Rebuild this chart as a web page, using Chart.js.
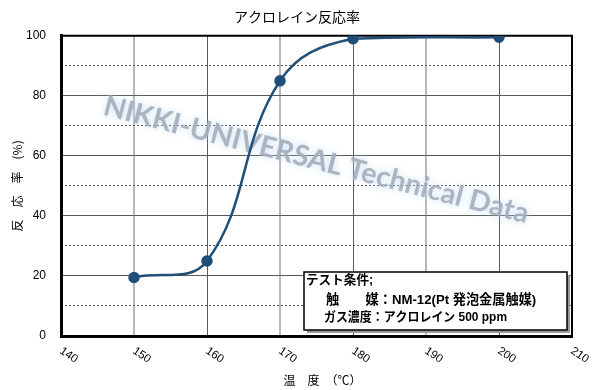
<!DOCTYPE html>
<html>
<head>
<meta charset="utf-8">
<script src="https://cdn.jsdelivr.net/npm/chart.js@4/dist/chart.umd.min.js"></script>
<style>
  html, body { margin: 0; padding: 0; background: #fff; }
  #wrap { width: 600px; height: 390px; }
</style>
</head>
<body>
<div id="wrap"><canvas id="myGraph" width="600" height="390"></canvas></div>
<script>
// data
var temps = [150, 160, 170, 180, 200];
var rates = [19.5, 25, 85, 99, 99.5];
var xTicks = [140, 150, 160, 170, 180, 190, 200, 210];
var yTicks = [0, 20, 40, 60, 80, 100];

var titleText = 'アクロレイン反応率';
var xTitle = '　温　度　（℃）';
var yTitle = '反　応　率　(%)';
var noteLines = ['テスト条件;', '触　　媒：NM-12(Pt 発泡金属触媒)', 'ガス濃度：アクロレイン 500 ppm'];
var watermark = 'NIKKI-UNIVERSAL Technical Data';

var points = [];
for (var i = 0; i < temps.length; i++) {
    points.push({ x: temps[i], y: rates[i] });
}

var lineColor = '#1f4e79';
var latin = '"Liberation Sans", Arial, "Noto Sans CJK JP", sans-serif';
var cjk = '"Noto Sans CJK JP", sans-serif';

// frame, watermark, rotated x labels and the note box
var extras = {
    id: 'extras',
    beforeDatasetsDraw: function (chart) {
        var c = chart.ctx, a = chart.chartArea;
        c.save();
        c.strokeStyle = '#000';
        c.lineWidth = 2;
        c.beginPath();
        c.moveTo(a.left, a.top);
        c.lineTo(a.right, a.top);
        c.lineTo(a.right, a.bottom);
        c.stroke();

        // watermark
        c.translate(314, 169);
        c.rotate(14.4 * Math.PI / 180);
        c.font = 'bold 30px Lato, "Open Sans", sans-serif';
        var w = c.measureText(watermark).width;
        var size = 30 * 438 / w;
        c.font = 'bold ' + size.toFixed(1) + 'px Lato, "Open Sans", sans-serif';
        c.textAlign = 'center';
        c.textBaseline = 'alphabetic';
        c.shadowColor = 'rgba(185,215,242,0.95)';
        c.shadowBlur = 7;
        c.fillStyle = 'rgba(163,172,186,0.88)';
        c.fillText(watermark, 0, 0);
        c.restore();
    },
    afterDraw: function (chart) {
        var c = chart.ctx, a = chart.chartArea;
        var xs = chart.scales.x;
        c.save();
        // x tick labels, slanted down to the right
        c.fillStyle = '#000';
        c.font = '11.5px ' + latin;
        c.textAlign = 'left';
        c.textBaseline = 'top';
        xs.ticks.forEach(function (t) {
            var px = xs.getPixelForValue(t.value);
            c.save();
            c.translate(px + 3, 345);
            c.rotate(34 * Math.PI / 180);
            c.fillText(String(t.value), 0, 0);
            c.restore();
        });

        // note box
        var bx = a.right - 268, by = a.bottom - 64, bw = 263, bh = 58;
        c.fillStyle = '#9a9a9a';
        c.fillRect(bx + 3, by + 3, bw, bh);
        c.fillStyle = '#fff';
        c.fillRect(bx, by, bw, bh);
        c.strokeStyle = '#000';
        c.lineWidth = 1.5;
        c.strokeRect(bx, by, bw, bh);
        c.fillStyle = '#000';
        c.textBaseline = 'middle';
        c.font = 'bold 12.6px ' + latin;
        c.fillText(noteLines[0], bx + 2, by + 9);
        c.font = 'bold 13.2px ' + latin;
        c.fillText(noteLines[1], bx + 22, by + 28, 211);
        c.font = 'bold 12.6px ' + latin;
        c.fillText(noteLines[2], bx + 20, by + 46, 183);
        c.restore();
    }
};

var ctx = document.getElementById('myGraph');
var myChart = new Chart(ctx, {
    type: 'line',
    data: {
        datasets: [{
            label: 'rate',
            data: points,
            borderColor: lineColor,
            backgroundColor: lineColor,
            borderWidth: 2.5,
            tension: 0.4,
            pointRadius: 4.5,
            pointBackgroundColor: lineColor,
            pointBorderColor: lineColor,
            fill: false
        }]
    },
    plugins: [extras],
    options: {
        responsive: false,
        animation: false,
        layout: { padding: { left: 0, right: 6, top: 0, bottom: 0 } },
        plugins: {
            legend: { display: false },
            tooltip: { enabled: false },
            title: {
                display: true,
                text: titleText,
                color: '#000',
                font: { family: cjk, size: 14, weight: 'normal' },
                padding: { top: 8, bottom: 11 }
            }
        },
        scales: {
            x: {
                type: 'linear',
                min: 140,
                max: 210,
                afterBuildTicks: function (s) {
                    s.ticks = xTicks.map(function (v) { return { value: v }; });
                },
                afterFit: function (s) { s.height = 54; },
                ticks: { display: false },
                grid: {
                    drawTicks: false,
                    color: function (c) {
                        var v = c.tick && c.tick.value;
                        if (v === 140 || v === 210) return 'rgba(0,0,0,0)';
                        return (v - 150) % 20 === 0 ? '#b8b8b8' : '#5a5a5a';
                    },
                    lineWidth: function (c) {
                        var v = c.tick && c.tick.value;
                        return (v - 150) % 20 === 0 ? 2 : 1;
                    }
                },
                border: { color: '#000', width: 3 },
                title: {
                    display: true,
                    text: xTitle,
                    color: '#000',
                    font: { family: cjk, size: 12 },
                    padding: { top: 0, bottom: 2 }
                }
            },
            // empty right gutter so the title centres like the original
            yr: {
                position: 'right',
                min: 0,
                max: 100,
                ticks: { display: false },
                grid: { display: false, drawTicks: false },
                border: { display: false },
                afterFit: function (s) { s.width = 22; }
            },
            y2: {
                position: 'left',
                min: 0,
                max: 100,
                ticks: { display: false, stepSize: 10 },
                afterFit: function (s) { s.width = 0; },
                grid: {
                    drawTicks: false,
                    color: function (c) {
                        var v = c.tick && c.tick.value;
                        return v % 20 === 10 ? '#555' : 'rgba(0,0,0,0)';
                    },
                    lineWidth: 1
                },
                border: { display: false, dash: [2, 2] }
            },
            y: {
                position: 'left',
                min: 0,
                max: 100,
                afterBuildTicks: function (s) {
                    s.ticks = yTicks.map(function (v) { return { value: v }; });
                },
                afterFit: function (s) { s.width = 61; },
                ticks: {
                    color: '#000',
                    font: { family: latin, size: 12 },
                    padding: 15
                },
                grid: {
                    drawTicks: false,
                    color: function (c) {
                        var v = c.tick && c.tick.value;
                        return (v === 0 || v === 100) ? 'rgba(0,0,0,0)' : '#5a5a5a';
                    },
                    lineWidth: 1
                },
                border: { color: '#000', width: 3 },
                title: {
                    display: true,
                    text: yTitle,
                    color: '#000',
                    font: { family: cjk, size: 12 },
                    padding: { top: 10, bottom: 0 }
                }
            }
        }
    }
});
</script>
</body>
</html>
